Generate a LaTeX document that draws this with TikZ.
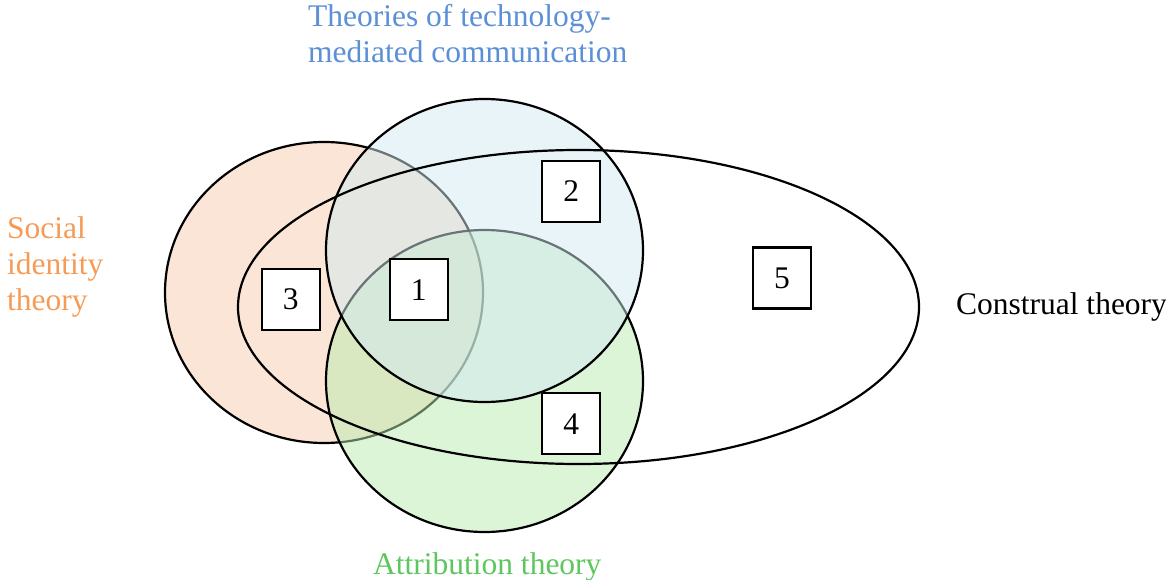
\documentclass[tikz,border=0pt]{standalone}
\usepackage{fontspec}
\setmainfont{Liberation Serif}
\definecolor{sitFill}{HTML}{FBE5D6}
\definecolor{tmcFill}{HTML}{D1E9F1}
\definecolor{attFill}{HTML}{BBEBAF}
\definecolor{sitText}{HTML}{F59B57}
\definecolor{tmcText}{HTML}{5B8FD6}
\definecolor{attText}{HTML}{5DC75D}
\usepackage{tikz}

\begin{document}
\begin{tikzpicture}[x=1pt, y=-1pt, line width=2.2pt,
  font=\fontsize{31.5}{36}\selectfont,
  regionbox/.style={draw, fill=white, minimum width=58pt, minimum height=61pt, inner sep=0pt},
  setlabel/.style={inner sep=0pt, align=left, anchor=base west}]
\useasboundingbox (0,0) rectangle (1166,580);
% social identity theory, opaque bottom layer
\draw[fill=sitFill] (324,292.5) ellipse [x radius=159, y radius=150.5];
% attribution and technology-mediated communication, half see-through
\draw[fill=attFill, fill opacity=0.5] (484.5,381) ellipse [x radius=158.5, y radius=151];
\draw[fill=tmcFill, fill opacity=0.5] (484.5,250.5) ellipse [x radius=158.5, y radius=151.5];
% construal theory, outline only
\draw (578.5,307) ellipse [x radius=340.5, y radius=157];
% numbered regions
\node[regionbox] (r1) at (418.7,289.7) {1};
\node[regionbox] (r2) at (571.2,191.3) {2};
\node[regionbox] (r3) at (290.8,299.7) {3};
\node[regionbox] (r4) at (571.2,423.7) {4};
\node[regionbox] (r5) at (782,278) {5};
% set names (base = last line of each label)
\node[setlabel, text=tmcText] (tmc) at (307,62.5) {Theories of technology-\\mediated communication};
\node[setlabel, text=sitText] (sit) at (6,310) {Social\\identity\\theory};
\node[setlabel] (ct) at (955,314) {Construal theory};
\node[setlabel, text=attText] (att) at (372,574) {Attribution theory};
\end{tikzpicture}
\end{document}
